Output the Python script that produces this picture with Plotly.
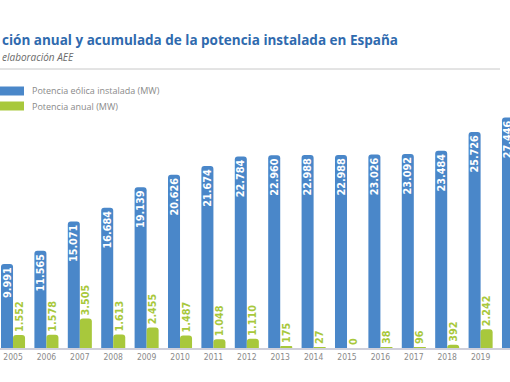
import plotly.graph_objects as go

years = [2005, 2006, 2007, 2008, 2009, 2010, 2011, 2012, 2013, 2014, 2015, 2016, 2017, 2018, 2019, 2020]
acumulada = [9991, 11565, 15071, 16684, 19139, 20626, 21674, 22784, 22960, 22988, 22988, 23026, 23092, 23484, 25726, 27446]
anual = [1552, 1578, 3505, 1613, 2455, 1487, 1048, 1110, 175, 27, 0, 38, 96, 392, 2242, 1720]
year_labels = [str(y) for y in years]
series_names = ["Potencia eólica instalada (MW)", "Potencia anual (MW)"]

BLUE = "#4a87c9"
GREEN = "#a8c83c"
NUMFONT = "Liberation Sans Narrow, DejaVu Sans Condensed, Arial Narrow, sans-serif"

W, H = 510, 382
MT, MB = 100, 34
PH = H - MT - MB


def px_y(py):
    return (H - MB - py) / PH


def px_x(px):
    return px / W


fig = go.Figure()
fig.add_trace(go.Bar(
    x=years, y=acumulada, name=series_names[0],
    marker=dict(color=BLUE, line=dict(width=0), cornerradius=3),
    texttemplate="<b>%{y:,}</b>", textposition="inside", insidetextanchor="end",
    textangle=-90, textfont=dict(color="white", size=10.8, family=NUMFONT),
    constraintext="none", cliponaxis=False, hoverinfo="skip",
))
fig.add_trace(go.Bar(
    x=years, y=anual, name=series_names[1],
    marker=dict(color=GREEN, line=dict(width=0), cornerradius=3),
    texttemplate="<b>%{y:,}</b>", textposition="outside",
    textangle=-90, textfont=dict(color=GREEN, size=10.8, family=NUMFONT),
    constraintext="none", cliponaxis=False, hoverinfo="skip",
))

annotations = [
    dict(text="<b>ción anual y acumulada de la potencia instalada en España</b>",
         x=0, y=px_y(40), xref="paper", yref="paper", xanchor="left", yanchor="middle",
         showarrow=False, font=dict(size=13.5, color="#2f6aae", family="Open Sans, sans-serif")),
    dict(text="<i>elaboración AEE</i>",
         x=0, y=px_y(57), xref="paper", yref="paper", xanchor="left", yanchor="middle",
         showarrow=False, font=dict(size=10, color="#6a6a6a", family="Open Sans, sans-serif")),
]
shapes = [
    dict(type="line", xref="paper", yref="paper", x0=0, x1=px_x(500),
         y0=px_y(69), y1=px_y(69), line=dict(color="#c8c8c8", width=1)),
]

# custom legend (swatches + labels)
for name, col, cy in zip(series_names, [BLUE, GREEN], [91, 106]):
    shapes.append(dict(type="rect", xref="paper", yref="paper",
                       x0=px_x(-4), x1=px_x(24), y0=px_y(cy + 4.5), y1=px_y(cy - 4.5),
                       fillcolor=col, line=dict(width=0), layer="above"))
    annotations.append(dict(text=name, x=px_x(30), y=px_y(cy), xref="paper", yref="paper",
                            xanchor="left", yanchor="middle", showarrow=False,
                            font=dict(size=9, color="#8a8a8a", family="Open Sans, sans-serif")))

fig.update_layout(
    width=W, height=H,
    margin=dict(l=0, r=0, t=MT, b=MB, autoexpand=False),
    paper_bgcolor="white", plot_bgcolor="white",
    barmode="group", bargap=0.28, bargroupgap=0,
    separators=",.",
    showlegend=False,
    hovermode=False,
    xaxis=dict(range=[2004.61, 2019.88], tickvals=years, ticktext=year_labels,
               showline=True, linecolor="#cfcfda", linewidth=1.5, ticks="",
               showgrid=False, zeroline=False, fixedrange=True,
               tickfont=dict(size=8.5, color="#8a8a8a", family=NUMFONT)),
    yaxis=dict(range=[0, PH / 0.0084], visible=False, showgrid=False, fixedrange=True),
    annotations=annotations,
    shapes=shapes,
)

fig.write_html("out.html", config={"displayModeBar": False},
               post_script="document.body.style.margin='0px';")
